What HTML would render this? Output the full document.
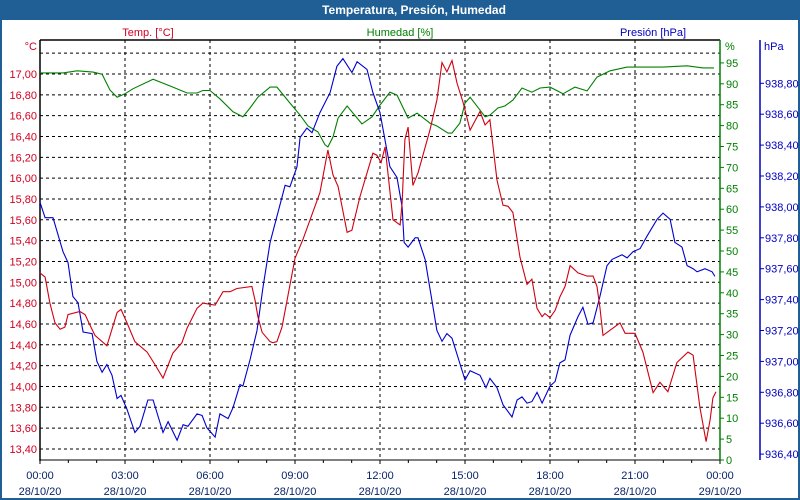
<!DOCTYPE html>
<html><head><meta charset="utf-8"><style>
html,body{margin:0;padding:0;background:#fff;}
svg{display:block;font-family:"Liberation Sans","DejaVu Sans",sans-serif;}
</style></head><body>
<svg id="chart" width="800" height="500" viewBox="0 0 800 500">
<rect x="0" y="0" width="800" height="500" fill="#1f5f96"/>
<rect x="2" y="20" width="796" height="478" fill="#ffffff"/>
<text x="414" y="14" fill="#fff" font-size="12" font-weight="bold" text-anchor="middle">Temperatura, Presión, Humedad</text>
<text x="148" y="36" fill="#d00020" font-size="11" text-anchor="middle">Temp. [°C]</text>
<text x="400" y="36" fill="#008000" font-size="11" text-anchor="middle">Humedad [%]</text>
<text x="653" y="36" fill="#0000c0" font-size="11" text-anchor="middle">Presión [hPa]</text>
<text x="37" y="50" fill="#d00020" font-size="11" text-anchor="end">°C</text>
<text x="725" y="50" fill="#008000" font-size="11">%</text>
<text x="764" y="50" fill="#0000c0" font-size="11">hPa</text>
<g id="grid"></g>
<g id="axes"></g>
<g id="series"></g>
</svg>
<script>
const timeHours=[];
const tempTimes=[0,.18,.35,.53,.71,.88,.99,1.41,1.59,1.76,1.94,2.36,2.72,2.86,3.07,3.35,3.78,4.06,4.34,4.69,5.01,5.19,5.54,5.75,6.18,6.46,6.71,6.95,7.48,7.59,7.69,7.84,8.12,8.22,8.36,8.54,9.00,9.28,9.88,10.16,10.34,10.52,10.84,11.01,11.29,11.75,11.89,12.04,12.18,12.46,12.71,12.78,12.88,12.99,13.16,13.34,13.76,14.01,14.19,14.36,14.54,14.72,14.93,15.18,15.53,15.71,15.88,16.13,16.34,16.52,16.69,16.94,17.19,17.36,17.54,17.72,17.82,18.00,18.18,18.35,18.53,18.71,18.99,19.31,19.52,19.66,19.76,19.87,20.12,20.47,20.65,21.00,21.28,21.64,21.88,22.16,22.48,22.87,23.05,23.29,23.51,23.65,23.75,23.86];
const tempValues=[15.09,15.05,14.80,14.61,14.55,14.57,14.69,14.72,14.69,14.59,14.49,14.39,14.71,14.74,14.61,14.43,14.33,14.21,14.08,14.32,14.42,14.56,14.75,14.80,14.78,14.91,14.91,14.94,14.96,14.83,14.67,14.52,14.43,14.42,14.43,14.57,15.23,15.41,15.86,16.27,16.03,15.92,15.48,15.50,15.82,16.24,16.22,16.15,16.30,15.60,15.55,15.76,16.37,16.49,15.93,16.05,16.46,16.75,17.11,17.02,17.13,16.91,16.73,16.46,16.64,16.51,16.56,15.98,15.74,15.73,15.67,15.24,14.98,15.03,14.75,14.67,14.70,14.66,14.73,14.86,14.96,15.16,15.09,15.06,15.06,14.96,14.76,14.49,14.54,14.61,14.51,14.51,14.33,13.94,14.04,13.95,14.23,14.33,14.30,13.80,13.47,13.68,13.89,13.95];
const presTimes=[0,.18,.46,.81,.99,1.16,1.34,1.52,1.84,2.01,2.19,2.36,2.54,2.72,2.86,3.07,3.35,3.53,3.81,3.99,4.34,4.52,4.84,5.05,5.22,5.54,5.72,5.89,6.18,6.35,6.64,6.81,7.06,7.16,7.41,7.66,7.87,8.12,8.65,8.82,9.07,9.18,9.42,9.60,9.88,10.24,10.48,10.69,11.01,11.19,11.54,11.75,12.00,12.35,12.60,12.78,12.85,12.99,13.24,13.34,13.59,14.01,14.19,14.36,14.54,15.00,15.18,15.53,15.74,15.88,16.13,16.34,16.66,16.84,17.01,17.19,17.36,17.54,17.72,18.00,18.18,18.35,18.53,18.71,18.99,19.16,19.34,19.52,19.76,20.01,20.19,20.54,20.72,20.93,21.18,21.42,21.78,21.99,22.24,22.41,22.66,22.84,23.05,23.19,23.47,23.72,23.82];
const presValues=[938.03,937.93,937.93,937.71,937.64,937.42,937.38,937.19,937.18,937.00,936.93,936.98,936.91,936.76,936.78,936.69,936.54,936.58,936.75,936.75,936.54,936.61,936.49,936.59,936.58,936.66,936.65,936.57,936.51,936.66,936.63,936.70,936.85,936.84,937.01,937.20,937.48,937.77,938.14,938.13,938.26,938.45,938.51,938.48,938.61,938.74,938.91,938.96,938.87,938.94,938.89,938.74,938.61,938.26,938.19,938.00,937.77,937.74,937.80,937.80,937.66,937.20,937.13,937.18,937.15,936.88,936.94,936.91,936.83,936.89,936.83,936.72,936.64,936.75,936.77,936.73,936.74,936.80,936.73,936.84,936.87,936.99,937.01,937.17,937.29,937.35,937.24,937.25,937.42,937.62,937.66,937.69,937.67,937.71,937.73,937.81,937.92,937.96,937.92,937.77,937.74,937.62,937.60,937.58,937.60,937.58,937.55];
const humTimes=[0,.81,1.31,1.87,2.19,2.47,2.72,3.00,3.28,3.99,4.69,5.19,5.54,5.75,6.00,6.35,6.81,7.16,7.41,7.69,8.12,8.36,8.82,9.18,9.46,9.81,10.06,10.16,10.34,10.52,10.84,11.36,11.72,12.00,12.35,12.60,12.99,13.31,13.76,14.01,14.40,14.54,14.82,15.00,15.18,15.53,15.71,15.88,16.16,16.41,16.69,17.01,17.36,17.65,18.00,18.46,18.88,19.31,19.66,20.12,20.72,21.28,21.99,22.84,23.40,23.79];
const humValues=[92.6,92.6,93.1,92.8,92.3,88.5,86.8,87.6,88.8,91.1,89.2,87.8,87.8,88.4,88.4,86.4,83.3,82.1,84.2,86.8,89.2,89.2,85.4,82.5,79.9,78.5,75.4,74.9,77.3,81.8,84.7,80.4,82.1,84.9,88.0,87.3,81.8,83.0,80.6,79.9,78.2,78.2,80.6,85.4,86.8,83.7,82.1,82.5,84.2,84.7,86.1,89.0,88.0,89.0,89.2,87.6,89.2,88.3,91.6,93.1,94.0,94.0,94.0,94.3,93.8,93.8];
const tempTicks=["13,40","13,60","13,80","14,00","14,20","14,40","14,60","14,80","15,00","15,20","15,40","15,60","15,80","16,00","16,20","16,40","16,60","16,80","17,00"];
const humTicks=[0,5,10,15,20,25,30,35,40,45,50,55,60,65,70,75,80,85,90,95];
const presTicks=["936,40","936,60","936,80","937,00","937,20","937,40","937,60","937,80","938,00","938,20","938,40","938,60","938,80"];
const timeTickLabels=["00:00","03:00","06:00","09:00","12:00","15:00","18:00","21:00","00:00"];
const dateTickLabels=["28/10/20","28/10/20","28/10/20","28/10/20","28/10/20","28/10/20","28/10/20","28/10/20","29/10/20"];

const X0=40,X1=720,Y0=40,Y1=460;
const xS=t=>X0+t*(X1-X0)/24;
const yT=v=>74+(17-v)/0.2*20.83;
const yH=v=>460-v*4.18;
const yP=v=>83.3+(938.8-v)/0.2*30.9;
const num=s=>parseFloat(String(s).replace(',','.'));
const NS="http://www.w3.org/2000/svg";
function mk(tag,attrs,parent){const e=document.createElementNS(NS,tag);for(const k in attrs)e.setAttribute(k,attrs[k]);parent.appendChild(e);return e;}
const grid=document.getElementById('grid'),axes=document.getElementById('axes'),series=document.getElementById('series');

// horizontal grid at temp values (plus 17.20)
const gridVals=tempTicks.map(num).concat([17.2]);
gridVals.forEach(v=>{const l=mk('line',{x1:X0,x2:X1,y1:yT(v),y2:yT(v),stroke:'#000','stroke-width':1,'stroke-dasharray':'3,3'},grid);

});
for(let i=1;i<8;i++){const l=mk('line',{x1:xS(i*3),x2:xS(i*3),y1:Y0,y2:Y1,stroke:'#000','stroke-width':1,'stroke-dasharray':'3,3'},grid);

}

// axis lines
let a=mk('line',{x1:X0,x2:X0,y1:Y0,y2:Y1+1,stroke:'#000','stroke-width':1.5},axes);


a=mk('line',{x1:X0,x2:X1,y1:Y0,y2:Y0,stroke:'#000','stroke-width':1.5},axes);


a=mk('line',{x1:X0,x2:X1,y1:Y1,y2:Y1,stroke:'#000','stroke-width':1},axes);


a=mk('line',{x1:X1,x2:X1,y1:Y0,y2:Y1,stroke:'#008000','stroke-width':1.5},axes);


a=mk('line',{x1:760,x2:760,y1:Y0,y2:Y1,stroke:'#0000c0','stroke-width':1.5},axes);



tempTicks.forEach(s=>{const t=mk('text',{x:37,y:yT(num(s))+4,fill:'#d00020','font-size':11,'text-anchor':'end'},axes);t.textContent=s;

});
humTicks.forEach(v=>{const y=yH(v);mk('line',{x1:X1,x2:X1+4,y1:y,y2:y,stroke:'#008000'},axes);
const t=mk('text',{x:X1+6,y:y+4,fill:'#008000','font-size':11},axes);t.textContent=v;

});
presTicks.forEach(s=>{const y=yP(num(s));mk('line',{x1:760,x2:764,y1:y,y2:y,stroke:'#0000c0'},axes);
const t=mk('text',{x:765,y:y+4,fill:'#0000c0','font-size':11},axes);t.textContent=s;

});
for(let h=0;h<=24;h++){mk('line',{x1:xS(h),x2:xS(h),y1:Y1,y2:Y1+(h%3==0?4:3),stroke:'#000'},axes);}
timeTickLabels.forEach((s,i)=>{const x=xS(i*3);
const t=mk('text',{x:x,y:479,fill:'#0a246a','font-size':11,'text-anchor':'middle'},axes);t.textContent=s;


const d=mk('text',{x:x,y:495,fill:'#0a246a','font-size':11,'text-anchor':'middle'},axes);d.textContent=dateTickLabels[i];

});

function line(ts,vs,yf,col,name){const p=ts.map((t,i)=>xS(t).toFixed(1)+','+yf(vs[i]).toFixed(1)).join(' ');
const l=mk('polyline',{points:p,fill:'none',stroke:col,'stroke-width':1.1},series);

}
line(humTimes,humValues,yH,'#008000','humidity-line');
line(presTimes,presValues,yP,'#0000d0','pressure-line');
line(tempTimes,tempValues,yT,'#d00010','temperature-line');
</script>
</body></html>
